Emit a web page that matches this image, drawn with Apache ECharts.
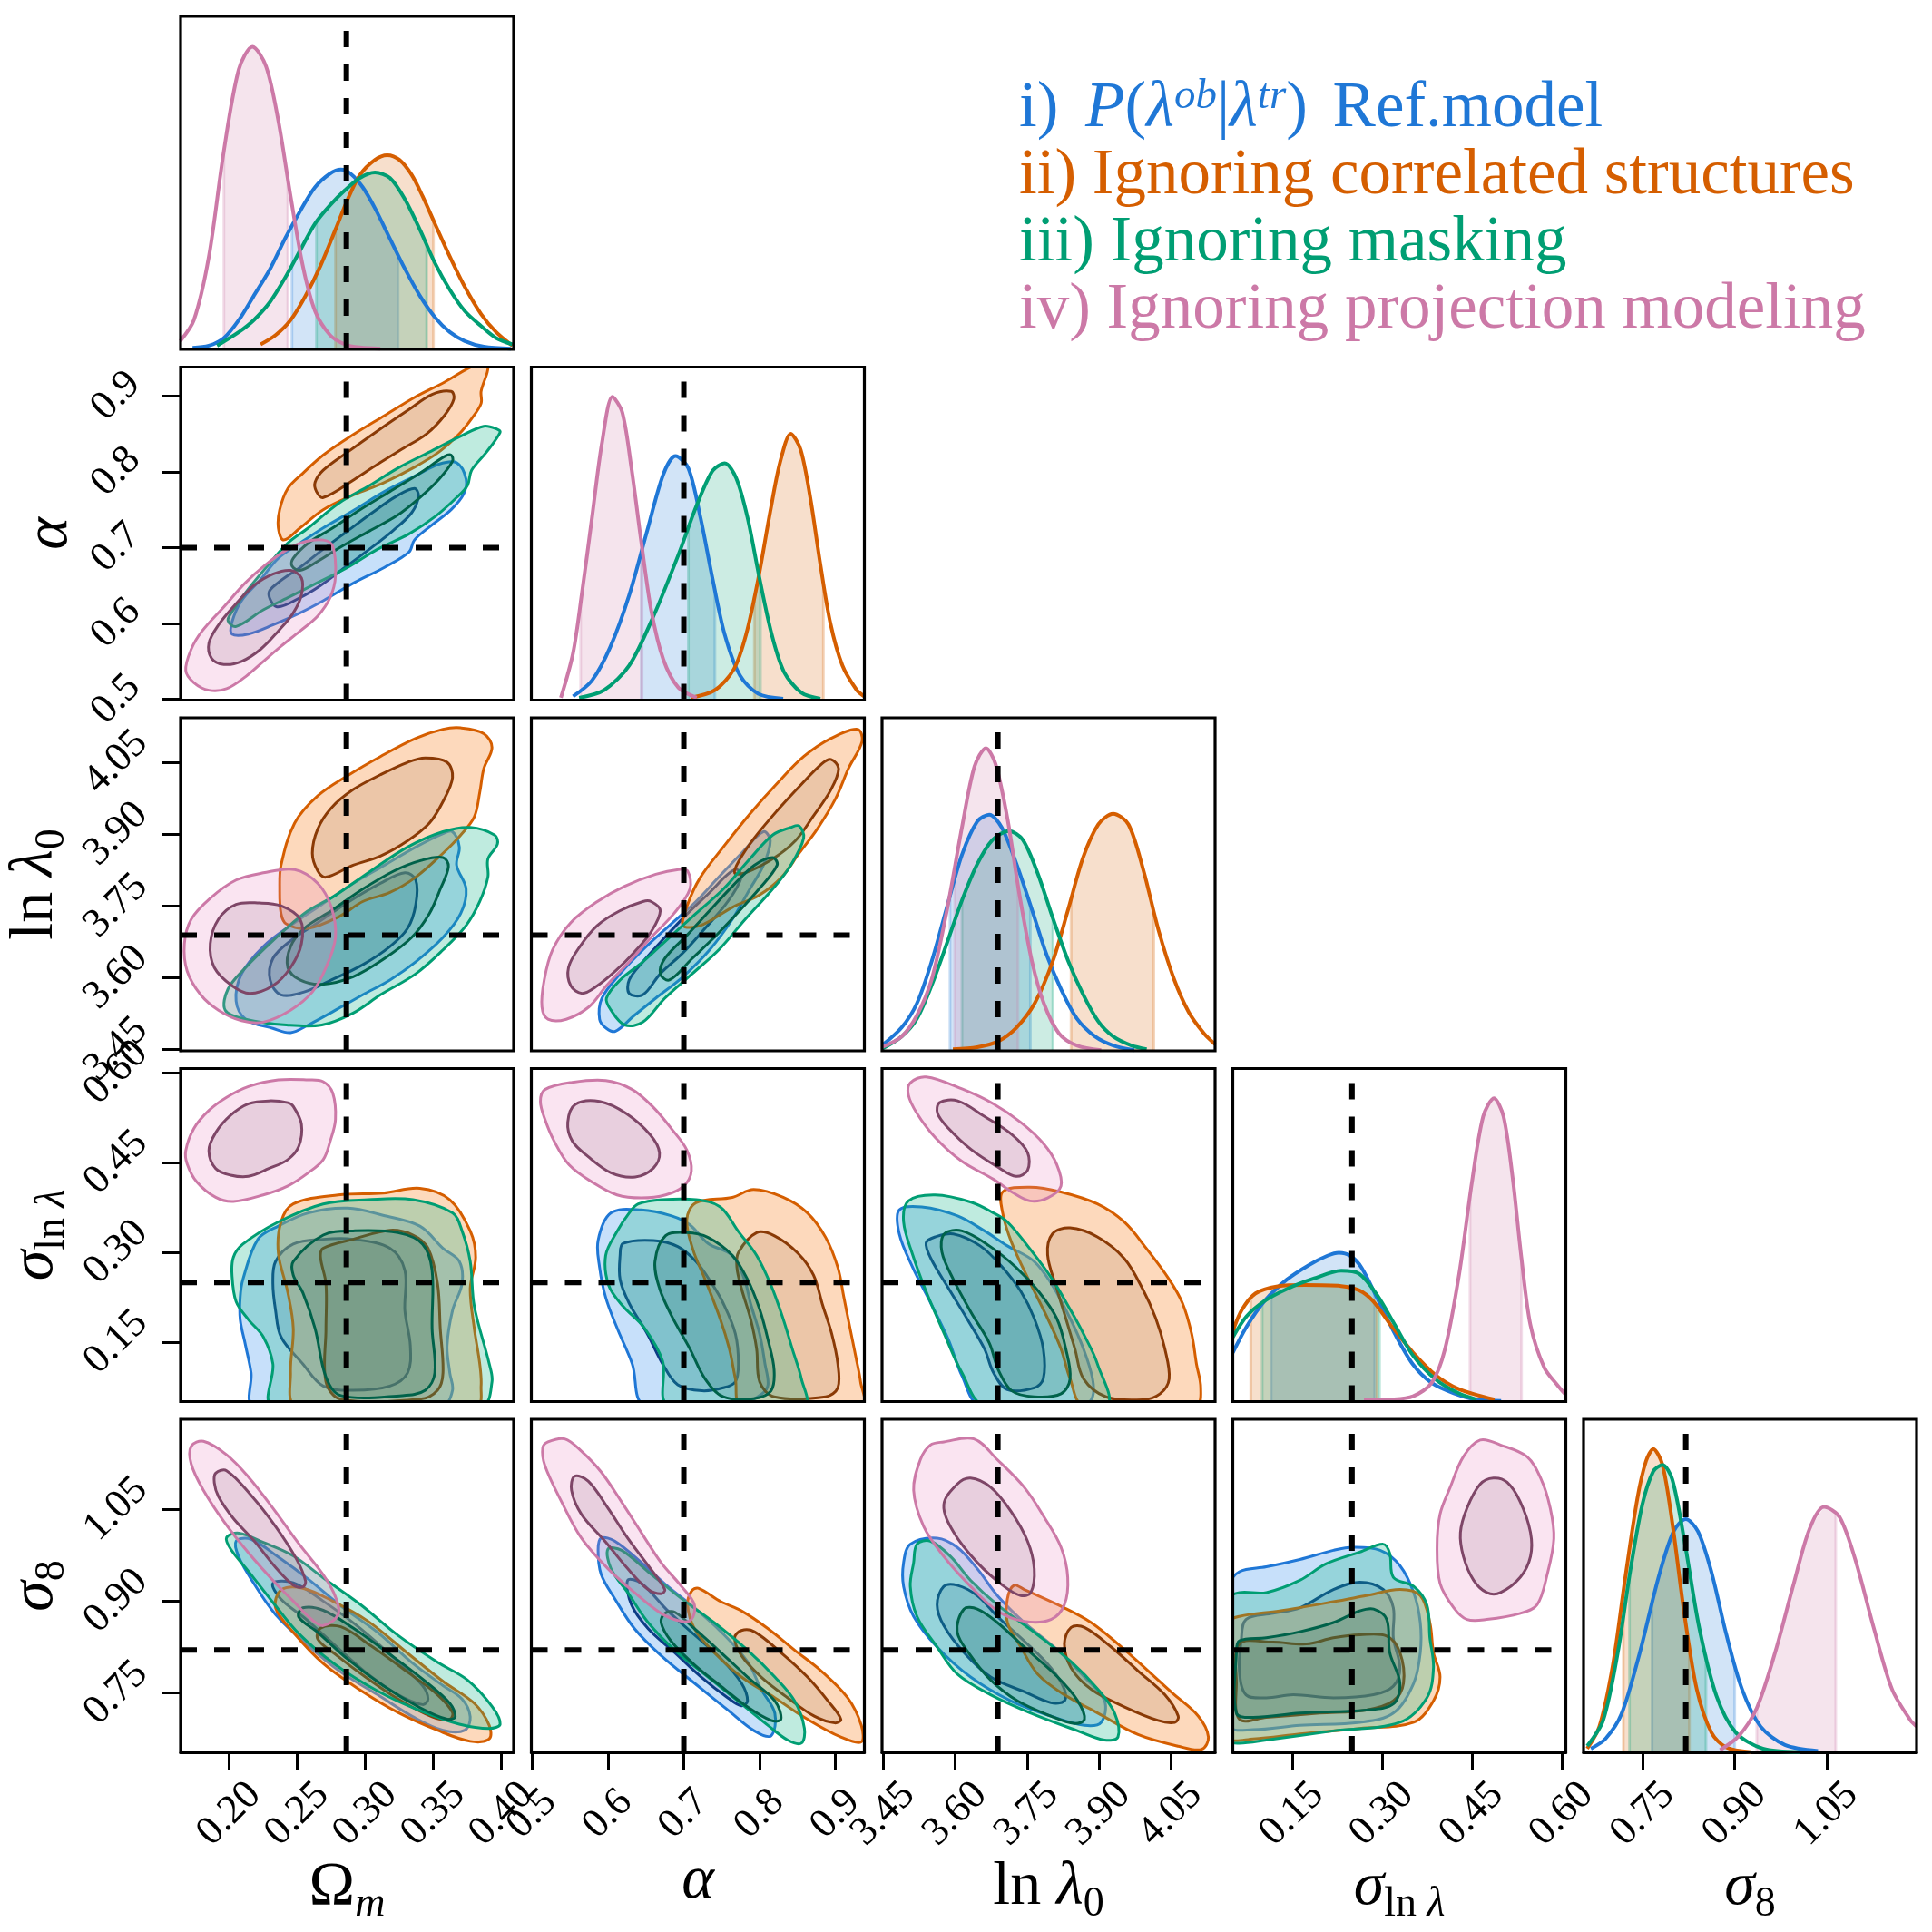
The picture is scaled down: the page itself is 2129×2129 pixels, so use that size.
<!DOCTYPE html>
<html><head><meta charset="utf-8">
<script src="https://cdn.jsdelivr.net/npm/echarts@6/dist/echarts.min.js"></script>
<style>html,body{margin:0;padding:0;background:#fff}#c{width:2129px;height:2129px}</style>
</head><body><div id="c"></div>
<script>
// ---------------- parameters, ranges, truth, ticks ----------------
const PARAMS = ['OM','AL','LL','SL','S8'];
const RANGE = {OM:[0.1642,0.4089], AL:[0.499,0.938], LL:[3.447,4.143], SL:[0.051,0.607], S8:[0.653,1.197]};
const TRUTH = {OM:0.286, AL:0.7, LL:3.689, SL:0.25, S8:0.82};
const TICKS = {OM:[0.20,0.25,0.30,0.35,0.40], AL:[0.5,0.6,0.7,0.8,0.9], LL:[3.45,3.60,3.75,3.90,4.05], SL:[0.15,0.30,0.45,0.60], S8:[0.75,0.90,1.05]};
const DECIMALS = {OM:2, AL:1, LL:2, SL:2, S8:2};
const MODELS = ['b','o','g','p'];
const LEGEND_NAMES = {b:'i', o:'ii', g:'iii', p:'iv'};

// ---------------- 2D contours (outer = 95%, inner = 68%) ----------------
// alpha vs Omega_m  ([Om, alpha])
const AL_OM_B95 = [[0.367,0.812],[0.374,0.790],[0.372,0.770],[0.363,0.750],[0.349,0.730],[0.336,0.710],[0.332,0.694],[0.314,0.674],[0.292,0.654],[0.269,0.630],[0.252,0.614],[0.232,0.598],[0.214,0.586],[0.202,0.586],[0.202,0.602],[0.209,0.630],[0.223,0.658],[0.236,0.686],[0.252,0.706],[0.269,0.726],[0.292,0.750],[0.314,0.774],[0.336,0.794],[0.354,0.810]];
const AL_OM_B68 = [[0.336,0.778],[0.339,0.768],[0.334,0.746],[0.320,0.722],[0.303,0.698],[0.285,0.674],[0.267,0.650],[0.252,0.634],[0.235,0.622],[0.229,0.640],[0.236,0.654],[0.252,0.674],[0.269,0.698],[0.287,0.722],[0.305,0.746],[0.323,0.768]];
const AL_OM_O95 = [[0.390,0.940],[0.385,0.906],[0.385,0.890],[0.378,0.870],[0.369,0.850],[0.354,0.826],[0.336,0.806],[0.314,0.786],[0.292,0.770],[0.269,0.750],[0.252,0.726],[0.240,0.710],[0.236,0.726],[0.237,0.750],[0.243,0.778],[0.254,0.798],[0.269,0.822],[0.292,0.850],[0.314,0.874],[0.336,0.898],[0.358,0.918],[0.380,0.940]];
const AL_OM_O68 = [[0.363,0.906],[0.365,0.896],[0.358,0.874],[0.345,0.850],[0.327,0.830],[0.309,0.810],[0.292,0.790],[0.269,0.766],[0.264,0.774],[0.263,0.786],[0.269,0.802],[0.287,0.826],[0.309,0.854],[0.332,0.882],[0.349,0.902]];
const AL_OM_G95 = [[0.399,0.852],[0.389,0.826],[0.378,0.802],[0.375,0.782],[0.367,0.766],[0.352,0.742],[0.332,0.718],[0.309,0.698],[0.287,0.674],[0.265,0.654],[0.243,0.634],[0.225,0.618],[0.205,0.596],[0.199,0.604],[0.203,0.618],[0.216,0.650],[0.229,0.678],[0.243,0.706],[0.258,0.726],[0.280,0.758],[0.303,0.782],[0.325,0.806],[0.347,0.826],[0.369,0.846],[0.387,0.860],[0.397,0.856]];
const AL_OM_G68 = [[0.363,0.822],[0.364,0.814],[0.354,0.790],[0.340,0.766],[0.323,0.742],[0.303,0.722],[0.283,0.702],[0.265,0.682],[0.252,0.670],[0.246,0.676],[0.247,0.686],[0.258,0.706],[0.276,0.726],[0.296,0.750],[0.318,0.774],[0.340,0.798],[0.358,0.820]];
const AL_OM_P95 = [[0.269,0.710],[0.276,0.702],[0.278,0.662],[0.274,0.634],[0.265,0.610],[0.252,0.590],[0.238,0.570],[0.225,0.550],[0.212,0.530],[0.198,0.514],[0.185,0.512],[0.174,0.522],[0.168,0.538],[0.172,0.566],[0.180,0.590],[0.196,0.622],[0.212,0.654],[0.227,0.678],[0.243,0.698],[0.256,0.708]];
const AL_OM_P68 = [[0.245,0.670],[0.253,0.660],[0.253,0.638],[0.247,0.614],[0.236,0.590],[0.223,0.566],[0.209,0.550],[0.196,0.546],[0.187,0.554],[0.185,0.574],[0.192,0.598],[0.205,0.626],[0.218,0.650],[0.232,0.665]];

// ln lambda0 vs Omega_m ([Om, lnl0])
const LL_OM_B95 = [[0.357,3.901],[0.364,3.905],[0.369,3.873],[0.367,3.835],[0.374,3.785],[0.370,3.734],[0.357,3.684],[0.337,3.633],[0.318,3.595],[0.298,3.564],[0.278,3.532],[0.258,3.501],[0.245,3.485],[0.232,3.494],[0.212,3.513],[0.205,3.551],[0.209,3.608],[0.225,3.665],[0.245,3.709],[0.268,3.753],[0.291,3.797],[0.314,3.835],[0.337,3.873]];
const LL_OM_B68 = [[0.329,3.819],[0.337,3.804],[0.337,3.753],[0.331,3.703],[0.318,3.665],[0.298,3.627],[0.275,3.595],[0.255,3.570],[0.238,3.564],[0.230,3.595],[0.232,3.640],[0.245,3.677],[0.265,3.715],[0.288,3.759],[0.311,3.797]];
const LL_OM_O95 = [[0.370,4.122],[0.387,4.110],[0.393,4.081],[0.387,4.037],[0.384,3.987],[0.380,3.936],[0.370,3.898],[0.357,3.860],[0.337,3.810],[0.318,3.778],[0.298,3.759],[0.281,3.728],[0.258,3.703],[0.242,3.712],[0.238,3.734],[0.237,3.785],[0.238,3.835],[0.248,3.923],[0.265,3.980],[0.288,4.024],[0.311,4.062],[0.337,4.100],[0.357,4.119]];
const LL_OM_O68 = [[0.344,4.059],[0.360,4.050],[0.364,4.018],[0.357,3.968],[0.347,3.923],[0.331,3.886],[0.311,3.854],[0.291,3.835],[0.271,3.810],[0.265,3.823],[0.261,3.860],[0.265,3.911],[0.275,3.955],[0.291,3.993],[0.311,4.024],[0.331,4.050]];
const LL_OM_G95 = [[0.377,3.914],[0.395,3.898],[0.397,3.879],[0.390,3.848],[0.390,3.810],[0.384,3.759],[0.374,3.709],[0.357,3.658],[0.337,3.608],[0.311,3.564],[0.291,3.526],[0.268,3.501],[0.242,3.501],[0.212,3.513],[0.197,3.532],[0.199,3.576],[0.212,3.621],[0.232,3.677],[0.255,3.734],[0.278,3.772],[0.304,3.823],[0.331,3.873],[0.357,3.905]];
const LL_OM_G68 = [[0.357,3.851],[0.361,3.832],[0.355,3.785],[0.347,3.734],[0.334,3.684],[0.314,3.640],[0.291,3.602],[0.268,3.586],[0.252,3.595],[0.243,3.621],[0.245,3.665],[0.255,3.703],[0.275,3.740],[0.298,3.785],[0.321,3.823],[0.341,3.845]];
const LL_OM_P95 = [[0.248,3.826],[0.265,3.797],[0.275,3.747],[0.278,3.684],[0.271,3.621],[0.261,3.570],[0.245,3.532],[0.225,3.507],[0.209,3.510],[0.192,3.532],[0.179,3.564],[0.169,3.614],[0.167,3.671],[0.172,3.722],[0.186,3.766],[0.205,3.804],[0.225,3.819]];
const LL_OM_P68 = [[0.238,3.750],[0.252,3.722],[0.253,3.671],[0.245,3.621],[0.232,3.583],[0.215,3.567],[0.202,3.583],[0.189,3.621],[0.186,3.671],[0.192,3.722],[0.205,3.753],[0.222,3.756]];

// ln lambda0 vs alpha ([alpha, lnl0])
const LL_AL_B95 = [[0.805,3.905],[0.814,3.886],[0.805,3.835],[0.787,3.785],[0.764,3.722],[0.734,3.658],[0.699,3.602],[0.663,3.557],[0.634,3.520],[0.610,3.488],[0.598,3.494],[0.589,3.513],[0.592,3.557],[0.616,3.608],[0.646,3.658],[0.681,3.709],[0.716,3.759],[0.746,3.810],[0.776,3.860]];
const LL_AL_B68 = [[0.770,3.826],[0.776,3.810],[0.758,3.759],[0.728,3.703],[0.699,3.652],[0.669,3.608],[0.646,3.564],[0.628,3.567],[0.628,3.595],[0.646,3.633],[0.675,3.684],[0.705,3.734],[0.734,3.778],[0.758,3.816]];
const LL_AL_O95 = [[0.929,4.119],[0.935,4.094],[0.917,4.037],[0.900,3.974],[0.876,3.911],[0.852,3.860],[0.829,3.810],[0.799,3.772],[0.764,3.747],[0.722,3.709],[0.699,3.709],[0.705,3.753],[0.722,3.810],[0.752,3.873],[0.787,3.942],[0.823,4.006],[0.858,4.062],[0.894,4.100]];
const LL_AL_O68 = [[0.894,4.056],[0.904,4.037],[0.894,3.993],[0.870,3.936],[0.847,3.886],[0.817,3.848],[0.781,3.819],[0.767,3.819],[0.773,3.845],[0.793,3.892],[0.823,3.949],[0.852,3.999],[0.882,4.047]];
const LL_AL_G95 = [[0.852,3.917],[0.858,3.892],[0.841,3.835],[0.817,3.785],[0.781,3.722],[0.746,3.658],[0.711,3.608],[0.675,3.557],[0.646,3.507],[0.622,3.501],[0.604,3.532],[0.598,3.557],[0.616,3.595],[0.646,3.633],[0.681,3.684],[0.716,3.734],[0.752,3.785],[0.787,3.848],[0.817,3.898],[0.841,3.914]];
const LL_AL_G68 = [[0.817,3.851],[0.823,3.835],[0.799,3.785],[0.770,3.734],[0.740,3.684],[0.711,3.640],[0.681,3.595],[0.669,3.608],[0.675,3.640],[0.705,3.690],[0.734,3.740],[0.764,3.791],[0.793,3.835]];
const LL_AL_P95 = [[0.705,3.823],[0.708,3.785],[0.687,3.734],[0.657,3.684],[0.628,3.633],[0.598,3.583],[0.575,3.539],[0.545,3.513],[0.521,3.513],[0.513,3.539],[0.516,3.595],[0.527,3.658],[0.551,3.715],[0.586,3.759],[0.622,3.791],[0.663,3.816],[0.693,3.826]];
const LL_AL_P68 = [[0.657,3.759],[0.669,3.740],[0.657,3.696],[0.634,3.652],[0.610,3.614],[0.586,3.583],[0.566,3.567],[0.551,3.583],[0.548,3.621],[0.563,3.665],[0.586,3.709],[0.616,3.740],[0.646,3.759]];

// sigma_lnlambda vs Omega_m ([Om, slnl])
const SL_OM_B95 = [[0.210,0.255],[0.221,0.322],[0.236,0.344],[0.258,0.366],[0.287,0.374],[0.313,0.362],[0.340,0.344],[0.357,0.307],[0.369,0.285],[0.371,0.248],[0.364,0.203],[0.360,0.144],[0.362,0.099],[0.364,0.070],[0.357,0.045],[0.218,0.045],[0.216,0.099],[0.212,0.144],[0.208,0.188],[0.208,0.225]];
const SL_OM_B68 = [[0.234,0.285],[0.247,0.314],[0.269,0.322],[0.291,0.322],[0.318,0.307],[0.329,0.270],[0.329,0.203],[0.333,0.144],[0.331,0.099],[0.318,0.077],[0.291,0.070],[0.269,0.077],[0.254,0.114],[0.238,0.159],[0.234,0.203],[0.232,0.248]];
const SL_OM_O95 = [[0.247,0.381],[0.280,0.396],[0.313,0.399],[0.340,0.407],[0.362,0.388],[0.377,0.336],[0.381,0.292],[0.377,0.240],[0.380,0.173],[0.384,0.114],[0.385,0.077],[0.382,0.045],[0.249,0.045],[0.245,0.099],[0.247,0.173],[0.243,0.233],[0.236,0.299],[0.238,0.351]];
const SL_OM_O68 = [[0.269,0.307],[0.291,0.322],[0.318,0.337],[0.335,0.329],[0.346,0.307],[0.353,0.248],[0.355,0.173],[0.357,0.099],[0.353,0.070],[0.340,0.055],[0.282,0.055],[0.271,0.084],[0.271,0.173],[0.271,0.248],[0.267,0.292]];
const SL_OM_G95 = [[0.203,0.292],[0.210,0.314],[0.236,0.351],[0.269,0.381],[0.302,0.388],[0.335,0.388],[0.364,0.366],[0.371,0.336],[0.377,0.285],[0.380,0.210],[0.391,0.114],[0.393,0.084],[0.386,0.045],[0.232,0.045],[0.232,0.114],[0.225,0.159],[0.214,0.188],[0.205,0.218],[0.202,0.262]];
const SL_OM_G68 = [[0.247,0.285],[0.269,0.329],[0.291,0.336],[0.324,0.333],[0.342,0.314],[0.349,0.270],[0.349,0.173],[0.351,0.099],[0.344,0.070],[0.327,0.061],[0.282,0.061],[0.271,0.092],[0.263,0.173],[0.254,0.233],[0.247,0.262]];
const SL_OM_P95 = [[0.269,0.585],[0.276,0.566],[0.278,0.522],[0.274,0.485],[0.269,0.455],[0.258,0.433],[0.243,0.411],[0.225,0.396],[0.203,0.385],[0.190,0.392],[0.176,0.418],[0.169,0.448],[0.168,0.470],[0.174,0.507],[0.185,0.537],[0.198,0.559],[0.214,0.577],[0.236,0.588],[0.258,0.588]];
const SL_OM_P68 = [[0.247,0.544],[0.253,0.514],[0.251,0.477],[0.243,0.455],[0.229,0.440],[0.214,0.427],[0.201,0.429],[0.190,0.440],[0.185,0.470],[0.190,0.500],[0.201,0.529],[0.214,0.548],[0.229,0.553],[0.243,0.550]];

// sigma_lnlambda vs alpha ([alpha, slnl])
const SL_AL_B95 = [[0.604,0.366],[0.644,0.371],[0.684,0.361],[0.708,0.346],[0.732,0.315],[0.764,0.295],[0.780,0.255],[0.788,0.215],[0.800,0.164],[0.807,0.114],[0.811,0.079],[0.803,0.064],[0.772,0.045],[0.648,0.045],[0.632,0.114],[0.612,0.174],[0.597,0.225],[0.589,0.275],[0.587,0.320]];
const SL_AL_B68 = [[0.620,0.315],[0.660,0.320],[0.692,0.310],[0.716,0.285],[0.736,0.250],[0.752,0.215],[0.768,0.164],[0.772,0.114],[0.768,0.084],[0.752,0.074],[0.724,0.069],[0.692,0.079],[0.672,0.114],[0.652,0.164],[0.628,0.215],[0.616,0.255],[0.616,0.295]];
const SL_AL_O95 = [[0.716,0.383],[0.764,0.392],[0.792,0.405],[0.831,0.392],[0.863,0.366],[0.887,0.325],[0.903,0.275],[0.911,0.225],[0.919,0.174],[0.927,0.124],[0.933,0.084],[0.935,0.045],[0.776,0.045],[0.768,0.089],[0.760,0.139],[0.748,0.189],[0.728,0.255],[0.712,0.305],[0.704,0.355]];
const SL_AL_O68 = [[0.772,0.300],[0.796,0.333],[0.819,0.328],[0.851,0.298],[0.871,0.262],[0.883,0.212],[0.895,0.164],[0.903,0.114],[0.903,0.074],[0.887,0.059],[0.819,0.059],[0.800,0.084],[0.796,0.139],[0.788,0.189],[0.776,0.240],[0.770,0.275]];
const SL_AL_G95 = [[0.640,0.381],[0.672,0.388],[0.716,0.388],[0.748,0.376],[0.772,0.335],[0.796,0.295],[0.815,0.245],[0.831,0.189],[0.843,0.139],[0.855,0.089],[0.859,0.045],[0.680,0.045],[0.672,0.119],[0.648,0.174],[0.620,0.210],[0.601,0.245],[0.597,0.295],[0.612,0.335],[0.628,0.366]];
const SL_AL_G68 = [[0.676,0.328],[0.704,0.333],[0.732,0.325],[0.764,0.295],[0.784,0.255],[0.800,0.205],[0.811,0.154],[0.819,0.104],[0.815,0.069],[0.792,0.056],[0.752,0.059],[0.728,0.089],[0.708,0.139],[0.684,0.194],[0.668,0.240],[0.662,0.285]];
const SL_AL_P95 = [[0.517,0.572],[0.553,0.584],[0.597,0.587],[0.632,0.572],[0.660,0.542],[0.684,0.506],[0.704,0.471],[0.710,0.436],[0.700,0.411],[0.676,0.396],[0.644,0.391],[0.612,0.396],[0.581,0.416],[0.549,0.446],[0.529,0.486],[0.517,0.522],[0.511,0.552]];
const SL_AL_P68 = [[0.557,0.547],[0.589,0.552],[0.624,0.532],[0.656,0.496],[0.668,0.466],[0.660,0.441],[0.636,0.426],[0.604,0.433],[0.573,0.461],[0.553,0.486],[0.547,0.517]];

// sigma_lnlambda vs ln lambda0 ([lnl0, slnl])
const SL_LL_B95 = [[3.483,0.371],[3.530,0.376],[3.605,0.361],[3.661,0.336],[3.709,0.311],[3.765,0.285],[3.803,0.245],[3.840,0.190],[3.868,0.139],[3.887,0.089],[3.887,0.059],[3.868,0.045],[3.652,0.045],[3.614,0.094],[3.586,0.154],[3.549,0.215],[3.511,0.275],[3.483,0.331]];
const SL_LL_B68 = [[3.558,0.326],[3.596,0.331],[3.652,0.311],[3.699,0.275],[3.737,0.235],[3.765,0.190],[3.784,0.139],[3.784,0.089],[3.765,0.074],[3.709,0.071],[3.680,0.099],[3.661,0.139],[3.624,0.190],[3.586,0.240],[3.549,0.290],[3.539,0.316]];
const SL_LL_O95 = [[3.699,0.401],[3.756,0.409],[3.821,0.401],[3.897,0.381],[3.953,0.351],[4.000,0.306],[4.047,0.255],[4.075,0.215],[4.094,0.164],[4.104,0.114],[4.113,0.074],[4.104,0.045],[3.868,0.045],[3.840,0.089],[3.821,0.139],[3.793,0.190],[3.756,0.250],[3.718,0.316],[3.699,0.366]];
const SL_LL_O68 = [[3.803,0.331],[3.840,0.341],[3.897,0.326],[3.953,0.290],[3.991,0.240],[4.019,0.190],[4.038,0.139],[4.047,0.089],[4.028,0.064],[3.991,0.054],[3.915,0.059],[3.868,0.089],[3.850,0.139],[3.831,0.190],[3.812,0.240],[3.793,0.296]];
const SL_LL_G95 = [[3.502,0.386],[3.558,0.396],[3.633,0.384],[3.680,0.366],[3.709,0.351],[3.756,0.306],[3.803,0.255],[3.840,0.205],[3.868,0.164],[3.897,0.114],[3.915,0.045],[3.661,0.045],[3.614,0.099],[3.577,0.164],[3.539,0.235],[3.511,0.296],[3.492,0.351]];
const SL_LL_G68 = [[3.577,0.331],[3.614,0.336],[3.671,0.311],[3.727,0.275],[3.774,0.235],[3.812,0.190],[3.831,0.139],[3.840,0.089],[3.821,0.064],[3.765,0.059],[3.718,0.069],[3.690,0.104],[3.671,0.149],[3.633,0.200],[3.596,0.255],[3.572,0.301]];
const SL_LL_P95 = [[3.506,0.583],[3.539,0.593],[3.614,0.573],[3.680,0.548],[3.737,0.517],[3.784,0.482],[3.812,0.447],[3.821,0.411],[3.793,0.391],[3.756,0.386],[3.718,0.401],[3.680,0.422],[3.614,0.452],[3.558,0.492],[3.520,0.532],[3.502,0.563]];
const SL_LL_P68 = [[3.567,0.550],[3.605,0.553],[3.661,0.527],[3.718,0.497],[3.751,0.467],[3.751,0.437],[3.727,0.427],[3.690,0.442],[3.633,0.472],[3.586,0.507],[3.563,0.532]];

// sigma8 vs Omega_m ([Om, s8])
const S8_OM_B95 = [[0.205,0.998],[0.216,1.001],[0.236,0.972],[0.258,0.936],[0.282,0.892],[0.309,0.849],[0.335,0.798],[0.357,0.762],[0.371,0.740],[0.377,0.711],[0.373,0.689],[0.357,0.689],[0.335,0.711],[0.309,0.747],[0.282,0.784],[0.258,0.827],[0.234,0.878],[0.218,0.929],[0.207,0.972]];
const S8_OM_B68 = [[0.232,0.929],[0.247,0.930],[0.269,0.900],[0.296,0.856],[0.322,0.805],[0.342,0.762],[0.346,0.740],[0.342,0.731],[0.324,0.747],[0.300,0.784],[0.278,0.827],[0.256,0.871],[0.238,0.903]];
const S8_OM_O95 = [[0.238,0.918],[0.254,0.921],[0.276,0.900],[0.302,0.867],[0.331,0.815],[0.357,0.769],[0.380,0.733],[0.391,0.697],[0.391,0.675],[0.377,0.671],[0.353,0.689],[0.324,0.718],[0.296,0.755],[0.269,0.798],[0.247,0.849],[0.234,0.889]];
const S8_OM_O68 = [[0.267,0.856],[0.282,0.858],[0.304,0.827],[0.331,0.784],[0.353,0.747],[0.364,0.718],[0.362,0.707],[0.349,0.711],[0.324,0.740],[0.300,0.776],[0.278,0.813],[0.265,0.838]];
const S8_OM_G95 = [[0.198,1.004],[0.207,1.011],[0.225,0.996],[0.247,0.974],[0.269,0.938],[0.296,0.895],[0.324,0.844],[0.353,0.800],[0.375,0.771],[0.393,0.728],[0.399,0.699],[0.391,0.692],[0.369,0.699],[0.340,0.721],[0.309,0.753],[0.278,0.796],[0.251,0.847],[0.232,0.898],[0.214,0.949],[0.201,0.985]];
const S8_OM_G68 = [[0.254,0.889],[0.269,0.885],[0.291,0.856],[0.318,0.813],[0.344,0.769],[0.362,0.733],[0.366,0.711],[0.360,0.707],[0.340,0.726],[0.313,0.762],[0.287,0.805],[0.265,0.849],[0.251,0.874]];
const S8_OM_P95 = [[0.172,1.153],[0.181,1.161],[0.198,1.139],[0.214,1.103],[0.232,1.052],[0.251,0.994],[0.269,0.943],[0.278,0.907],[0.280,0.878],[0.269,0.860],[0.260,0.871],[0.247,0.900],[0.234,0.929],[0.214,0.979],[0.196,1.030],[0.181,1.081],[0.172,1.124]];
const S8_OM_P68 = [[0.190,1.109],[0.198,1.113],[0.216,1.073],[0.234,1.022],[0.249,0.970],[0.256,0.933],[0.254,0.923],[0.247,0.926],[0.234,0.955],[0.218,0.999],[0.203,1.035],[0.192,1.071],[0.189,1.093]];

// sigma8 vs alpha ([alpha, s8])
const S8_AL_B95 = [[0.591,1.003],[0.609,0.998],[0.644,0.963],[0.679,0.924],[0.714,0.889],[0.749,0.850],[0.784,0.801],[0.802,0.756],[0.820,0.717],[0.815,0.680],[0.793,0.688],[0.758,0.722],[0.714,0.766],[0.670,0.811],[0.635,0.855],[0.609,0.904],[0.591,0.944],[0.587,0.983]];
const S8_AL_B68 = [[0.626,0.934],[0.644,0.929],[0.679,0.884],[0.714,0.845],[0.749,0.806],[0.776,0.766],[0.784,0.737],[0.776,0.729],[0.758,0.742],[0.723,0.776],[0.688,0.816],[0.653,0.855],[0.631,0.894]];
const S8_AL_O95 = [[0.719,0.921],[0.749,0.899],[0.776,0.884],[0.811,0.855],[0.846,0.820],[0.881,0.786],[0.916,0.742],[0.934,0.697],[0.934,0.670],[0.907,0.678],[0.863,0.707],[0.820,0.742],[0.776,0.776],[0.740,0.816],[0.714,0.855],[0.705,0.894],[0.710,0.916]];
const S8_AL_O68 = [[0.776,0.852],[0.793,0.850],[0.828,0.816],[0.863,0.776],[0.890,0.737],[0.907,0.707],[0.899,0.701],[0.872,0.712],[0.837,0.742],[0.802,0.776],[0.776,0.811],[0.767,0.840]];
const S8_AL_G95 = [[0.600,0.985],[0.618,0.983],[0.653,0.948],[0.697,0.904],[0.740,0.865],[0.784,0.820],[0.820,0.776],[0.846,0.737],[0.859,0.692],[0.855,0.668],[0.837,0.673],[0.811,0.697],[0.776,0.732],[0.732,0.776],[0.688,0.820],[0.653,0.865],[0.626,0.914],[0.604,0.953]];
const S8_AL_G68 = [[0.675,0.880],[0.688,0.882],[0.714,0.855],[0.749,0.816],[0.784,0.776],[0.820,0.737],[0.828,0.707],[0.815,0.705],[0.784,0.727],[0.749,0.761],[0.714,0.796],[0.683,0.835],[0.670,0.865]];
const S8_AL_P95 = [[0.521,1.160],[0.543,1.165],[0.565,1.145],[0.591,1.111],[0.618,1.062],[0.644,1.012],[0.670,0.963],[0.697,0.924],[0.714,0.894],[0.710,0.870],[0.697,0.867],[0.670,0.880],[0.635,0.914],[0.600,0.953],[0.565,1.003],[0.539,1.062],[0.517,1.121],[0.514,1.150]];
const S8_AL_P68 = [[0.556,1.104],[0.574,1.096],[0.600,1.052],[0.626,1.003],[0.653,0.958],[0.675,0.919],[0.670,0.912],[0.653,0.919],[0.626,0.953],[0.596,0.998],[0.565,1.042],[0.552,1.081]];

// sigma8 vs ln lambda0 ([lnl0, s8])
const S8_LL_B95 = [[3.506,0.993],[3.562,1.003],[3.604,0.988],[3.646,0.953],[3.688,0.909],[3.744,0.865],[3.814,0.820],[3.870,0.776],[3.912,0.737],[3.905,0.702],[3.870,0.697],[3.800,0.712],[3.716,0.737],[3.632,0.776],[3.562,0.825],[3.513,0.875],[3.492,0.924],[3.492,0.963]];
const S8_LL_B68 = [[3.576,0.924],[3.604,0.926],[3.646,0.909],[3.688,0.875],[3.744,0.835],[3.800,0.791],[3.828,0.756],[3.828,0.737],[3.800,0.734],[3.744,0.752],[3.674,0.776],[3.618,0.816],[3.576,0.860],[3.562,0.894]];
const S8_LL_O95 = [[3.723,0.926],[3.744,0.919],[3.828,0.889],[3.884,0.865],[3.940,0.830],[3.996,0.791],[4.052,0.751],[4.108,0.712],[4.129,0.678],[4.115,0.658],[4.066,0.663],[3.982,0.682],[3.898,0.717],[3.828,0.747],[3.772,0.781],[3.737,0.825],[3.709,0.865],[3.709,0.904]];
const S8_LL_O68 = [[3.842,0.857],[3.870,0.857],[3.926,0.825],[3.982,0.786],[4.038,0.747],[4.066,0.712],[4.059,0.702],[4.024,0.705],[3.954,0.727],[3.884,0.756],[3.842,0.791],[3.828,0.830]];
const S8_LL_G95 = [[3.520,0.993],[3.548,0.998],[3.590,0.973],[3.632,0.934],[3.688,0.894],[3.772,0.845],[3.842,0.801],[3.898,0.756],[3.933,0.717],[3.940,0.678],[3.912,0.673],[3.856,0.688],[3.758,0.717],[3.674,0.747],[3.604,0.781],[3.562,0.825],[3.520,0.875],[3.506,0.924],[3.513,0.963]];
const S8_LL_G68 = [[3.618,0.887],[3.646,0.887],[3.688,0.865],[3.744,0.825],[3.814,0.776],[3.856,0.737],[3.870,0.707],[3.849,0.700],[3.800,0.712],[3.730,0.737],[3.674,0.771],[3.632,0.811],[3.604,0.850]];
const S8_LL_P95 = [[3.576,1.160],[3.639,1.165],[3.688,1.131],[3.744,1.086],[3.786,1.037],[3.821,0.988],[3.835,0.939],[3.828,0.894],[3.800,0.870],[3.744,0.867],[3.688,0.884],[3.632,0.924],[3.576,0.973],[3.534,1.022],[3.513,1.081],[3.527,1.131],[3.548,1.155]];
const S8_LL_P68 = [[3.604,1.091],[3.632,1.101],[3.674,1.086],[3.716,1.047],[3.751,0.998],[3.765,0.953],[3.758,0.914],[3.737,0.909],[3.702,0.924],[3.646,0.963],[3.597,1.012],[3.576,1.057]];

// sigma8 vs sigma_lnlambda ([slnl, s8])
const S8_SL_B95 = [[0.062,0.948],[0.107,0.956],[0.163,0.968],[0.219,0.983],[0.252,0.988],[0.297,0.983],[0.330,0.958],[0.353,0.914],[0.364,0.865],[0.364,0.816],[0.353,0.766],[0.319,0.717],[0.263,0.702],[0.163,0.697],[0.085,0.690],[0.045,0.697],[0.045,0.924]];
const S8_SL_B68 = [[0.073,0.870],[0.118,0.880],[0.163,0.889],[0.219,0.919],[0.263,0.931],[0.302,0.919],[0.319,0.889],[0.319,0.840],[0.330,0.791],[0.319,0.761],[0.286,0.747],[0.219,0.742],[0.152,0.747],[0.107,0.742],[0.073,0.747],[0.062,0.786],[0.065,0.835]];
const S8_SL_O95 = [[0.062,0.875],[0.129,0.884],[0.219,0.899],[0.274,0.909],[0.330,0.919],[0.364,0.909],[0.380,0.865],[0.386,0.816],[0.397,0.776],[0.386,0.737],[0.353,0.702],[0.263,0.692],[0.163,0.683],[0.085,0.675],[0.045,0.678],[0.045,0.865]];
const S8_SL_O68 = [[0.062,0.830],[0.118,0.833],[0.174,0.830],[0.219,0.840],[0.263,0.845],[0.308,0.843],[0.330,0.816],[0.336,0.766],[0.319,0.737],[0.274,0.722],[0.196,0.717],[0.107,0.710],[0.062,0.707],[0.057,0.766]];
const S8_SL_G95 = [[0.062,0.914],[0.107,0.914],[0.163,0.934],[0.207,0.961],[0.263,0.980],[0.302,0.993],[0.313,0.978],[0.319,0.939],[0.353,0.924],[0.375,0.894],[0.380,0.840],[0.386,0.791],[0.375,0.742],[0.330,0.702],[0.219,0.688],[0.107,0.673],[0.062,0.668],[0.045,0.673],[0.045,0.904]];
const S8_SL_G68 = [[0.062,0.835],[0.107,0.840],[0.163,0.850],[0.219,0.865],[0.263,0.884],[0.286,0.887],[0.308,0.870],[0.313,0.816],[0.330,0.766],[0.319,0.732],[0.274,0.722],[0.163,0.717],[0.085,0.710],[0.057,0.717],[0.057,0.816]];
const S8_SL_P95 = [[0.464,1.163],[0.498,1.155],[0.542,1.136],[0.565,1.101],[0.581,1.052],[0.587,1.002],[0.576,0.944],[0.559,0.894],[0.531,0.880],[0.475,0.870],[0.442,0.870],[0.420,0.889],[0.397,0.929],[0.392,0.988],[0.397,1.042],[0.414,1.086],[0.436,1.136]];
const S8_SL_P68 = [[0.486,1.101],[0.509,1.094],[0.531,1.062],[0.548,1.012],[0.548,0.973],[0.531,0.939],[0.498,0.914],[0.475,0.914],[0.453,0.934],[0.436,0.973],[0.431,1.012],[0.442,1.052],[0.464,1.091]];

// ---------------- 1D marginals ([value, relative density]) and 68% intervals ----------------
const OM_B_1D = [[0.173,0.005],[0.185,0.011],[0.196,0.034],[0.207,0.088],[0.218,0.161],[0.230,0.242],[0.241,0.333],[0.252,0.415],[0.263,0.487],[0.274,0.528],[0.282,0.540],[0.289,0.528],[0.298,0.487],[0.307,0.424],[0.318,0.333],[0.329,0.242],[0.340,0.161],[0.351,0.097],[0.362,0.052],[0.373,0.025],[0.387,0.008],[0.407,0.002]];
const OM_O_1D = [[0.223,0.015],[0.234,0.043],[0.245,0.088],[0.256,0.161],[0.267,0.251],[0.278,0.360],[0.287,0.451],[0.296,0.524],[0.307,0.569],[0.316,0.583],[0.325,0.569],[0.334,0.524],[0.342,0.460],[0.351,0.378],[0.362,0.279],[0.373,0.188],[0.385,0.106],[0.396,0.052],[0.408,0.011]];
const OM_G_1D = [[0.191,0.011],[0.207,0.052],[0.218,0.088],[0.230,0.143],[0.241,0.215],[0.252,0.297],[0.263,0.378],[0.274,0.433],[0.285,0.478],[0.296,0.515],[0.307,0.531],[0.318,0.515],[0.329,0.451],[0.340,0.360],[0.351,0.260],[0.362,0.179],[0.373,0.115],[0.385,0.070],[0.396,0.034],[0.408,0.015]];
const OM_P_1D = [[0.164,0.025],[0.174,0.088],[0.185,0.279],[0.196,0.596],[0.207,0.841],[0.217,0.909],[0.227,0.850],[0.236,0.687],[0.245,0.460],[0.254,0.251],[0.263,0.115],[0.274,0.043],[0.285,0.015],[0.296,0.006],[0.311,0.002]];
const OM_B_CI = [0.246,0.324], OM_O_CI = [0.278,0.350], OM_G_CI = [0.264,0.345], OM_P_CI = [0.196,0.243];

const AL_B_1D = [[0.554,0.011],[0.579,0.059],[0.603,0.159],[0.628,0.315],[0.652,0.511],[0.673,0.678],[0.689,0.733],[0.706,0.696],[0.722,0.548],[0.738,0.363],[0.754,0.196],[0.774,0.074],[0.798,0.019],[0.831,0.004]];
const AL_O_1D = [[0.709,0.007],[0.741,0.030],[0.766,0.093],[0.782,0.196],[0.798,0.363],[0.814,0.567],[0.827,0.715],[0.841,0.800],[0.854,0.752],[0.867,0.604],[0.880,0.407],[0.893,0.233],[0.909,0.104],[0.928,0.030],[0.938,0.011]];
const AL_G_1D = [[0.562,0.007],[0.595,0.030],[0.628,0.104],[0.660,0.252],[0.693,0.437],[0.717,0.585],[0.738,0.689],[0.754,0.711],[0.769,0.667],[0.784,0.548],[0.800,0.363],[0.816,0.196],[0.832,0.085],[0.855,0.022],[0.880,0.004]];
const AL_P_1D = [[0.538,0.007],[0.554,0.141],[0.566,0.326],[0.579,0.548],[0.592,0.770],[0.606,0.911],[0.619,0.863],[0.631,0.696],[0.644,0.474],[0.657,0.270],[0.673,0.122],[0.693,0.037],[0.717,0.007]];
const AL_B_CI = [0.644,0.741], AL_O_CI = [0.793,0.884], AL_G_CI = [0.706,0.801], AL_P_CI = [0.564,0.645];

const LL_B_1D = [[3.447,0.016],[3.488,0.070],[3.520,0.143],[3.551,0.270],[3.583,0.434],[3.614,0.589],[3.646,0.689],[3.671,0.709],[3.697,0.671],[3.728,0.561],[3.760,0.425],[3.791,0.288],[3.823,0.179],[3.854,0.097],[3.892,0.043],[3.930,0.016],[3.974,0.002]];
const LL_O_1D = [[3.595,0.005],[3.646,0.011],[3.690,0.029],[3.728,0.070],[3.766,0.143],[3.804,0.270],[3.836,0.425],[3.867,0.580],[3.899,0.680],[3.930,0.712],[3.962,0.680],[3.993,0.543],[4.025,0.361],[4.057,0.216],[4.088,0.116],[4.120,0.052],[4.143,0.020]];
const LL_G_1D = [[3.447,0.006],[3.488,0.043],[3.520,0.097],[3.551,0.198],[3.583,0.325],[3.614,0.452],[3.646,0.561],[3.678,0.634],[3.712,0.660],[3.741,0.634],[3.772,0.534],[3.804,0.398],[3.836,0.270],[3.867,0.170],[3.899,0.088],[3.930,0.043],[3.968,0.016],[4.000,0.005]];
const LL_P_1D = [[3.447,0.011],[3.488,0.043],[3.520,0.107],[3.551,0.216],[3.583,0.425],[3.614,0.671],[3.640,0.853],[3.664,0.909],[3.684,0.862],[3.709,0.698],[3.734,0.470],[3.760,0.270],[3.785,0.143],[3.817,0.052],[3.854,0.016],[3.905,0.002]];
const LL_B_CI = [3.589,3.757], LL_O_CI = [3.842,4.015], LL_G_CI = [3.614,3.804], LL_P_CI = [3.599,3.731];

const SL_B_1D = [[0.051,0.147],[0.074,0.225],[0.104,0.302],[0.141,0.366],[0.179,0.411],[0.209,0.438],[0.228,0.447],[0.247,0.438],[0.266,0.402],[0.292,0.311],[0.322,0.202],[0.352,0.111],[0.383,0.056],[0.420,0.025],[0.458,0.006],[0.499,0.002]];
const SL_O_1D = [[0.051,0.211],[0.066,0.275],[0.089,0.325],[0.126,0.346],[0.172,0.350],[0.232,0.347],[0.262,0.334],[0.285,0.302],[0.315,0.229],[0.352,0.147],[0.390,0.079],[0.428,0.038],[0.488,0.006]];
const SL_G_1D = [[0.051,0.193],[0.074,0.256],[0.104,0.302],[0.141,0.338],[0.187,0.370],[0.232,0.393],[0.262,0.384],[0.292,0.320],[0.322,0.229],[0.352,0.138],[0.390,0.066],[0.428,0.025],[0.458,0.006]];
const SL_P_1D = [[0.270,0.004],[0.315,0.006],[0.352,0.016],[0.383,0.056],[0.405,0.156],[0.429,0.384],[0.450,0.656],[0.469,0.856],[0.487,0.911],[0.503,0.856],[0.518,0.675],[0.533,0.429],[0.548,0.229],[0.571,0.102],[0.594,0.047],[0.607,0.020]];
const SL_B_CI = [0.115,0.288], SL_O_CI = [0.081,0.292], SL_G_CI = [0.100,0.296], SL_P_CI = [0.447,0.533];

const S8_B_1D = [[0.665,0.011],[0.689,0.041],[0.715,0.115],[0.745,0.300],[0.775,0.522],[0.800,0.663],[0.820,0.700],[0.840,0.663],[0.862,0.541],[0.886,0.356],[0.912,0.189],[0.942,0.078],[0.982,0.022],[1.036,0.004]];
const S8_O_1D = [[0.659,0.011],[0.679,0.078],[0.701,0.263],[0.721,0.522],[0.741,0.763],[0.755,0.874],[0.767,0.911],[0.782,0.863],[0.798,0.689],[0.818,0.411],[0.838,0.189],[0.862,0.059],[0.886,0.015],[0.926,0.001]];
const S8_G_1D = [[0.659,0.019],[0.685,0.096],[0.709,0.300],[0.729,0.541],[0.749,0.744],[0.767,0.844],[0.782,0.863],[0.798,0.819],[0.818,0.633],[0.842,0.374],[0.870,0.170],[0.902,0.059],[0.946,0.011],[1.006,0.001]];
const S8_P_1D = [[0.876,0.007],[0.906,0.048],[0.936,0.133],[0.966,0.300],[0.996,0.504],[1.022,0.670],[1.046,0.737],[1.071,0.707],[1.097,0.578],[1.127,0.374],[1.157,0.189],[1.187,0.096],[1.197,0.078]];
const S8_B_CI = [0.765,0.900], S8_O_CI = [0.718,0.826], S8_G_CI = [0.728,0.853], S8_P_CI = [0.936,1.065];

// ---------------- assemble panel tables from the named arrays ----------------
const CONTOUR_PANELS = [
  {row:'AL', col:'OM', b:[AL_OM_B95,AL_OM_B68], o:[AL_OM_O95,AL_OM_O68], g:[AL_OM_G95,AL_OM_G68], p:[AL_OM_P95,AL_OM_P68]},
  {row:'LL', col:'OM', b:[LL_OM_B95,LL_OM_B68], o:[LL_OM_O95,LL_OM_O68], g:[LL_OM_G95,LL_OM_G68], p:[LL_OM_P95,LL_OM_P68]},
  {row:'LL', col:'AL', b:[LL_AL_B95,LL_AL_B68], o:[LL_AL_O95,LL_AL_O68], g:[LL_AL_G95,LL_AL_G68], p:[LL_AL_P95,LL_AL_P68]},
  {row:'SL', col:'OM', b:[SL_OM_B95,SL_OM_B68], o:[SL_OM_O95,SL_OM_O68], g:[SL_OM_G95,SL_OM_G68], p:[SL_OM_P95,SL_OM_P68]},
  {row:'SL', col:'AL', b:[SL_AL_B95,SL_AL_B68], o:[SL_AL_O95,SL_AL_O68], g:[SL_AL_G95,SL_AL_G68], p:[SL_AL_P95,SL_AL_P68]},
  {row:'SL', col:'LL', b:[SL_LL_B95,SL_LL_B68], o:[SL_LL_O95,SL_LL_O68], g:[SL_LL_G95,SL_LL_G68], p:[SL_LL_P95,SL_LL_P68]},
  {row:'S8', col:'OM', b:[S8_OM_B95,S8_OM_B68], o:[S8_OM_O95,S8_OM_O68], g:[S8_OM_G95,S8_OM_G68], p:[S8_OM_P95,S8_OM_P68]},
  {row:'S8', col:'AL', b:[S8_AL_B95,S8_AL_B68], o:[S8_AL_O95,S8_AL_O68], g:[S8_AL_G95,S8_AL_G68], p:[S8_AL_P95,S8_AL_P68]},
  {row:'S8', col:'LL', b:[S8_LL_B95,S8_LL_B68], o:[S8_LL_O95,S8_LL_O68], g:[S8_LL_G95,S8_LL_G68], p:[S8_LL_P95,S8_LL_P68]},
  {row:'S8', col:'SL', b:[S8_SL_B95,S8_SL_B68], o:[S8_SL_O95,S8_SL_O68], g:[S8_SL_G95,S8_SL_G68], p:[S8_SL_P95,S8_SL_P68]}
];
const DIAG_PANELS = {
  OM:{b:[OM_B_1D,OM_B_CI], o:[OM_O_1D,OM_O_CI], g:[OM_G_1D,OM_G_CI], p:[OM_P_1D,OM_P_CI]},
  AL:{b:[AL_B_1D,AL_B_CI], o:[AL_O_1D,AL_O_CI], g:[AL_G_1D,AL_G_CI], p:[AL_P_1D,AL_P_CI]},
  LL:{b:[LL_B_1D,LL_B_CI], o:[LL_O_1D,LL_O_CI], g:[LL_G_1D,LL_G_CI], p:[LL_P_1D,LL_P_CI]},
  SL:{b:[SL_B_1D,SL_B_CI], o:[SL_O_1D,SL_O_CI], g:[SL_G_1D,SL_G_CI], p:[SL_P_1D,SL_P_CI]},
  S8:{b:[S8_B_1D,S8_B_CI], o:[S8_O_1D,S8_O_CI], g:[S8_G_1D,S8_G_CI], p:[S8_P_1D,S8_P_CI]}
};

// ---------------- styles & layout ----------------
const SERIF = "'Liberation Serif','DejaVu Serif',serif";
const COLOR = {b:'#1f77d6', o:'#d55e00', g:'#009e73', p:'#cc79a7'};
const DARK  = {b:'#0d3d86', o:'#8a3a06', g:'#00624a', p:'#7e4667'};
const FILL95 = {b:'rgba(100,170,240,0.36)', o:'rgba(250,160,88,0.40)', g:'rgba(20,180,135,0.27)', p:'rgba(230,130,190,0.22)'};
const FILL68 = {b:'rgba(15,60,130,0.15)', o:'rgba(120,70,40,0.13)', g:'rgba(0,90,70,0.15)', p:'rgba(110,60,90,0.12)'};
const FILL1D = {b:'rgba(31,119,214,0.2)', o:'rgba(213,94,0,0.2)', g:'rgba(0,158,115,0.2)', p:'rgba(204,121,167,0.2)'};
const EDGE1D = {b:'rgba(31,119,214,0.25)', o:'rgba(213,94,0,0.25)', g:'rgba(0,158,115,0.25)', p:'rgba(204,121,167,0.25)'};
const PANEL = 367, STEP = 386.5, LEFT0 = 199, TOP0 = 18;
const TICK_FONT = 45;

const NAME_RICH = {
  r:{fontFamily:SERIF, fontSize:68, lineHeight:84, color:'#000'},
  i:{fontFamily:SERIF, fontSize:68, lineHeight:84, fontStyle:'italic', color:'#000'},
  si:{fontFamily:SERIF, fontSize:46, fontStyle:'italic', verticalAlign:'bottom', color:'#000'},
  sr:{fontFamily:SERIF, fontSize:46, verticalAlign:'bottom', color:'#000'}
};
const AXIS_NAME = {
  OM:'{r|Ω}{si|m}',
  AL:'{i|α}',
  LL:'{r|ln }{i|λ}{sr|0}',
  SL:'{i|σ}{sr|ln }{si|λ}',
  S8:'{i|σ}{sr|8}'
};

const grids = [], xAxes = [], yAxes = [], series = [];
const gridOf = {};
for (let r = 0; r < 5; r++) {
  for (let c = 0; c <= r; c++) {
    const gi = grids.length;
    gridOf[r + '_' + c] = gi;
    const px = PARAMS[c], py = PARAMS[r];
    grids.push({left: LEFT0 + c * STEP, top: TOP0 + r * STEP, width: PANEL, height: PANEL});
    const showX = r === 4, showY = c === 0 && r > 0;
    xAxes.push({
      gridIndex: gi, type: 'value', min: RANGE[px][0], max: RANGE[px][1],
      axisLine: {show: showX, onZero: false, lineStyle: {color: '#000', width: 3}}, splitLine: {show: false},
      axisTick: {show: showX, length: 20, customValues: TICKS[px], lineStyle: {color: '#000', width: 3}},
      axisLabel: {show: showX, customValues: TICKS[px], rotate: 45, align: 'center', verticalAlign: 'middle', margin: 68,
        fontFamily: SERIF, fontSize: TICK_FONT, color: '#000', formatter: v => Number(v).toFixed(DECIMALS[px])},
      name: showX ? AXIS_NAME[px] : '', nameLocation: 'middle', nameGap: 100,
      nameTextStyle: {rich: NAME_RICH}
    });
    if (r === c) {
      yAxes.push({gridIndex: gi, type: 'value', min: 0, max: 1, show: false});
    } else {
      yAxes.push({
        gridIndex: gi, type: 'value', min: RANGE[py][0], max: RANGE[py][1],
        axisLine: {show: showY, onZero: false, lineStyle: {color: '#000', width: 3}}, splitLine: {show: false},
        axisTick: {show: showY, length: 20, customValues: TICKS[py], lineStyle: {color: '#000', width: 3}},
        axisLabel: {show: showY, customValues: TICKS[py], rotate: 45, align: 'center', verticalAlign: 'middle', margin: 71,
          fontFamily: SERIF, fontSize: TICK_FONT, color: '#000', formatter: v => Number(v).toFixed(DECIMALS[py])},
        name: showY ? AXIS_NAME[py] : '', nameLocation: 'middle', nameGap: 94, nameRotate: 90,
        nameTextStyle: {rich: NAME_RICH}
      });
    }
  }
}

// contour polygons drawn through the axes' scales
function polygonSeries(gi, pts, fill, stroke, name) {
  return {
    type: 'custom', name: name, xAxisIndex: gi, yAxisIndex: gi, data: pts, clip: true, z: 2, silent: true,
    renderItem: (params, api) => {
      if (params.dataIndex !== 0) return null;
      return {type: 'polygon', shape: {points: pts.map(p => api.coord(p)), smooth: 0.35},
              style: {fill: fill, stroke: stroke, lineWidth: 3, lineJoin: 'round'}};
    }
  };
}
// shaded 68% interval under a 1D curve
function intervalSeries(gi, curve, ci, fill, edge, name) {
  return {
    type: 'custom', name: name, xAxisIndex: gi, yAxisIndex: gi, data: curve, clip: true, z: 2, silent: true,
    renderItem: (params, api) => {
      if (params.dataIndex !== 0) return null;
      const pts = curve.map(p => api.coord(p));
      const lo = api.coord([ci[0], 0]), hi = api.coord([ci[1], 0]);
      const yAt = x => {
        for (let i = 0; i < pts.length - 1; i++) {
          const a = pts[i], b = pts[i + 1];
          if (x >= a[0] && x <= b[0]) { const t = (x - a[0]) / (b[0] - a[0]); return a[1] + t * (b[1] - a[1]); }
        }
        return lo[1];
      };
      const poly = [[lo[0], lo[1]], [lo[0], yAt(lo[0])]];
      pts.forEach(p => { if (p[0] > lo[0] && p[0] < hi[0]) poly.push(p); });
      poly.push([hi[0], yAt(hi[0])], [hi[0], hi[1]]);
      return {type: 'group', children: [
        {type: 'polygon', shape: {points: poly}, style: {fill: fill}},
        {type: 'line', shape: {x1: lo[0], y1: lo[1], x2: lo[0], y2: yAt(lo[0])}, style: {stroke: edge, lineWidth: 3}},
        {type: 'line', shape: {x1: hi[0], y1: hi[1], x2: hi[0], y2: yAt(hi[0])}, style: {stroke: edge, lineWidth: 3}}
      ]};
    }
  };
}

// 2D contours
MODELS.forEach(m => {
  CONTOUR_PANELS.forEach(P => {
    const gi = gridOf[PARAMS.indexOf(P.row) + '_' + PARAMS.indexOf(P.col)];
    series.push(polygonSeries(gi, P[m][0], FILL95[m], COLOR[m], LEGEND_NAMES[m]));
    series.push(polygonSeries(gi, P[m][1], FILL68[m], DARK[m], LEGEND_NAMES[m]));
  });
});
// 1D marginals
PARAMS.forEach((p, k) => {
  const gi = gridOf[k + '_' + k];
  MODELS.forEach(m => series.push(intervalSeries(gi, DIAG_PANELS[p][m][0], DIAG_PANELS[p][m][1], FILL1D[m], EDGE1D[m], LEGEND_NAMES[m])));
  MODELS.forEach(m => series.push({
    type: 'line', name: LEGEND_NAMES[m], xAxisIndex: gi, yAxisIndex: gi, data: DIAG_PANELS[p][m][0],
    smooth: 0.3, symbol: 'none', z: 3, silent: true,
    lineStyle: {color: COLOR[m], width: 4}, itemStyle: {color: COLOR[m]}
  }));
});
// truth lines + panel frames
for (let r = 0; r < 5; r++) {
  for (let c = 0; c <= r; c++) {
    const gi = gridOf[r + '_' + c];
    const px = PARAMS[c], py = PARAMS[r];
    const yr = r === c ? [0, 1] : RANGE[py];
    const dash = {color: '#000', width: 6, type: [18, 19]};
    series.push({type: 'line', xAxisIndex: gi, yAxisIndex: gi, data: [[TRUTH[px], yr[0]], [TRUTH[px], yr[1]]],
      symbol: 'none', z: 5, silent: true, lineStyle: dash});
    if (r !== c) {
      series.push({type: 'line', xAxisIndex: gi, yAxisIndex: gi, data: [[RANGE[px][0], TRUTH[py]], [RANGE[px][1], TRUTH[py]]],
        symbol: 'none', z: 5, silent: true, lineStyle: dash});
    }
    series.push({type: 'custom', xAxisIndex: gi, yAxisIndex: gi, data: [[RANGE[px][0], yr[0]]], z: 10, silent: true,
      renderItem: (params, api) => {
        if (params.dataIndex !== 0) return null;
        const cs = params.coordSys;
        return {type: 'rect', shape: {x: cs.x, y: cs.y, width: cs.width, height: cs.height},
                style: {fill: 'none', stroke: '#000', lineWidth: 3.2}};
      }});
  }
}

// legend text (colored, LaTeX-like)
const LEG_RICH = {};
MODELS.forEach(m => {
  LEG_RICH['t' + m] = {fontFamily: SERIF, fontSize: 71, lineHeight: 74, color: COLOR[m]};
  LEG_RICH['i' + m] = {fontFamily: SERIF, fontSize: 71, lineHeight: 74, fontStyle: 'italic', color: COLOR[m]};
  LEG_RICH['u' + m] = {fontFamily: SERIF, fontSize: 47, fontStyle: 'italic', verticalAlign: 'top', color: COLOR[m]};
});
LEG_RICH.pb = {fontFamily: SERIF, fontSize: 71, lineHeight: 74, fontStyle: 'italic', color: COLOR.b, padding: [0, 0, 0, 12]};
LEG_RICH.rb = {fontFamily: SERIF, fontSize: 71, lineHeight: 74, color: COLOR.b, padding: [0, 0, 0, 10]};
const LEG_TEXT = {
  'i': '{tb|i) }{pb|P}{tb|(}{ib|λ}{ub|ob}{tb||}{ib|λ}{ub|tr}{tb|)}{rb| Ref.model}',
  'ii': '{to|ii) Ignoring correlated structures}',
  'iii': '{tg|iii) Ignoring masking}',
  'iv': '{tp|iv) Ignoring projection modeling}'
};

const chart = echarts.init(document.getElementById('c'), null, {renderer: 'canvas'});
chart.setOption({
  animation: false,
  backgroundColor: '#fff',
  grid: grids, xAxis: xAxes, yAxis: yAxes,
  legend: {
    orient: 'vertical', left: 1113, top: 78, itemGap: 0, itemWidth: 0, itemHeight: 0, icon: 'rect',
    selectedMode: false,
    data: ['i', 'ii', 'iii', 'iv'],
    formatter: n => LEG_TEXT[n],
    textStyle: {fontFamily: SERIF, fontSize: 71, lineHeight: 74, rich: LEG_RICH}
  },
  series: series
});
</script></body></html>
